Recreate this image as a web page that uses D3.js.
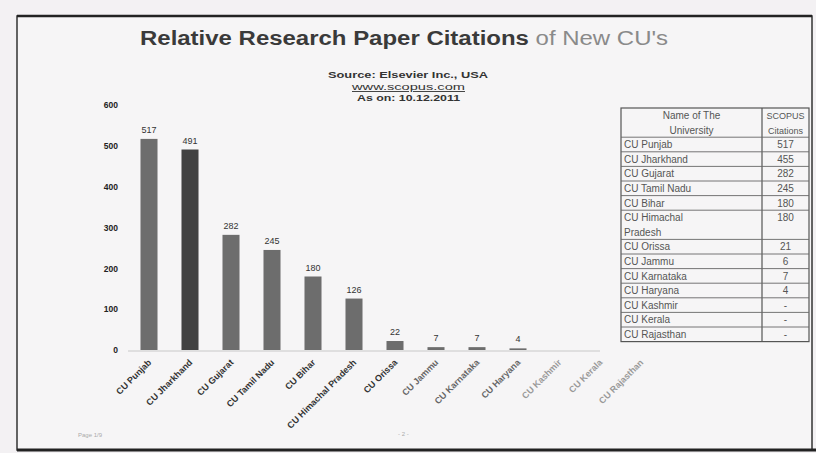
<!DOCTYPE html>
<html lang="en">
<head>
  <meta charset="UTF-8">
  <title>Relative Research Paper Citations of New CU's</title>
  <script src="https://d3js.org/d3.v7.min.js"></script>
  <style>
    body { margin: 0; background: #f3f1f3; }
    svg { display: block; font-family: "Liberation Sans", Arial, sans-serif; }
    .tick text { font-size: 8.5px; font-weight: bold; fill: #222; }
    .bar-label { font-size: 9px; fill: #333; }
    .x-label { font-size: 9px; font-weight: bold; }
    .tbl text { font-size: 10px; fill: #555; }
  </style>
</head>
<body>
<svg id="chart"></svg>

<script>
  // bar chart data
  var categories = ["CU Punjab", "CU Jharkhand", "CU Gujarat", "CU Tamil Nadu", "CU Bihar",
    "CU Himachal Pradesh", "CU Orissa", "CU Jammu", "CU Karnataka", "CU Haryana",
    "CU Kashmir", "CU Kerala", "CU Rajasthan"];
  var citations = [517, 491, 282, 245, 180, 126, 22, 7, 7, 4, 0, 0, 0];
  var yTicks = [0, 100, 200, 300, 400, 500, 600];

  // side table (as printed)
  var tableHeader = [["Name of The", "University"], ["SCOPUS", "Citations"]];
  var tableNames = [["CU Punjab"], ["CU Jharkhand"], ["CU Gujarat"], ["CU Tamil Nadu"], ["CU Bihar"],
    ["CU Himachal", "Pradesh"], ["CU Orissa"], ["CU Jammu"], ["CU Karnataka"], ["CU Haryana"],
    ["CU Kashmir"], ["CU Kerala"], ["CU Rajasthan"]];
  var tableValues = ["517", "455", "282", "245", "180", "180", "21", "6", "7", "4", "-", "-", "-"];

  var W = 816, H = 453;
  var svg = d3.select("#chart").attr("width", W).attr("height", H);

  // page frame
  svg.append("rect")
    .attr("x", 17).attr("y", 16).attr("width", 795).attr("height", 434)
    .attr("fill", "#f6f5f6").attr("stroke", "#333").attr("stroke-width", 1.5);
  svg.append("line").attr("x1", 17).attr("x2", 812).attr("y1", 16).attr("y2", 16)
    .attr("stroke", "#222").attr("stroke-width", 2.5);
  svg.append("line").attr("x1", 17).attr("x2", 816).attr("y1", 450).attr("y2", 450)
    .attr("stroke", "#222").attr("stroke-width", 3);

  // title
  var title = svg.append("text")
    .attr("x", 140).attr("y", 45)
    .attr("textLength", 528).attr("lengthAdjust", "spacingAndGlyphs")
    .attr("font-size", 20).attr("font-weight", "bold").attr("fill", "#3a3a3a");
  title.append("tspan").text("Relative Research Paper Citations ");
  title.append("tspan").attr("fill", "#8a8a8a").attr("font-weight", "normal").text("of New CU's");

  // source lines
  var sub = svg.append("g").attr("font-size", 9).attr("font-weight", "bold").attr("fill", "#333");
  sub.append("text").attr("x", 328).attr("y", 78)
    .attr("textLength", 160).attr("lengthAdjust", "spacingAndGlyphs").text("Source: Elsevier Inc., USA");
  sub.append("text").attr("x", 352).attr("y", 90).attr("font-weight", "normal")
    .attr("textLength", 113).attr("lengthAdjust", "spacingAndGlyphs")
    .attr("text-decoration", "underline").text("www.scopus.com");
  sub.append("text").attr("x", 357).attr("y", 101)
    .attr("textLength", 103).attr("lengthAdjust", "spacingAndGlyphs").text("As on: 10.12.2011");

  // scales
  var x = d3.scaleBand()
    .domain(categories)
    .range([128.5, 661.5])
    .paddingInner(0.585)
    .paddingOuter(0.2925);

  var y = d3.scaleLinear()
    .domain([0, 600])
    .range([350, 105]);

  // y axis
  var yAxis = svg.append("g")
    .attr("transform", "translate(128,0)")
    .call(d3.axisLeft(y).tickValues(yTicks).tickSize(0).tickPadding(10));
  yAxis.select(".domain").remove();

  // baseline
  svg.append("line")
    .attr("x1", 128).attr("x2", 600)
    .attr("y1", y(0) + 1).attr("y2", y(0) + 1)
    .attr("stroke", "#c8c8c8");

  // bars
  svg.selectAll(".bar")
    .data(citations)
    .enter().append("rect")
    .attr("class", "bar")
    .attr("x", function(d, i) { return x(categories[i]); })
    .attr("width", x.bandwidth())
    .attr("y", function(d) { return Math.min(y(d), y(0) - 1.5); })
    .attr("height", function(d) { return d > 0 ? Math.max(y(0) - y(d), 1.5) : 0; })
    .attr("fill", function(d, i) { return i === 1 ? "#424242" : "#6d6d6d"; });

  // value labels
  svg.selectAll(".bar-label")
    .data(citations.filter(function(d) { return d > 0; }))
    .enter().append("text")
    .attr("class", "bar-label")
    .attr("x", function(d, i) { return x(categories[i]) + x.bandwidth() / 2; })
    .attr("y", function(d) { return y(d) - 6; })
    .attr("text-anchor", "middle")
    .text(function(d) { return d; });

  // category labels, rotated
  svg.selectAll(".x-label")
    .data(categories)
    .enter().append("text")
    .attr("class", "x-label")
    .attr("text-anchor", "end")
    .attr("fill", function(d, i) { return i < 7 ? "#333" : (i < 10 ? "#666" : "#999"); })
    .attr("transform", function(d) {
      return "translate(" + (x(d) + x.bandwidth() / 2 + 3) + ",363) rotate(-45)";
    })
    .text(function(d) { return d; });

  // side table
  var tx0 = 621, tx1 = 762, tx2 = 809, ty0 = 108, lineH = 14.6;
  var tbl = svg.append("g").attr("class", "tbl");
  var rowTop = ty0 + 2 * lineH;
  var rows = tableNames.map(function(n, i) {
    var r = { names: n, value: tableValues[i], top: rowTop, h: n.length * lineH };
    rowTop += r.h;
    return r;
  });

  tbl.append("rect").attr("x", tx0).attr("y", ty0).attr("width", tx2 - tx0).attr("height", rowTop - ty0)
    .attr("fill", "none").attr("stroke", "#555").attr("stroke-width", 1.2);
  tbl.append("line").attr("x1", tx1).attr("x2", tx1).attr("y1", ty0).attr("y2", rowTop)
    .attr("stroke", "#555").attr("stroke-width", 1.2);

  tableHeader.forEach(function(h, c) {
    var cx = c === 0 ? (tx0 + tx1) / 2 : (tx1 + tx2) / 2;
    h.forEach(function(t, k) {
      tbl.append("text").attr("x", cx).attr("y", ty0 + lineH * k + 11)
        .attr("text-anchor", "middle")
        .style("font-size", c === 1 ? "9px" : null)
        .text(t);
    });
  });

  var rowG = tbl.selectAll(".row").data(rows).enter().append("g").attr("class", "row");
  rowG.append("line")
    .attr("x1", tx0).attr("x2", tx2)
    .attr("y1", function(d) { return d.top; }).attr("y2", function(d) { return d.top; })
    .attr("stroke", "#666").attr("stroke-width", 0.9);
  rowG.each(function(d) {
    var g = d3.select(this);
    d.names.forEach(function(t, k) {
      g.append("text").attr("x", tx0 + 3).attr("y", d.top + lineH * k + 11).text(t);
    });
    g.append("text").attr("x", (tx1 + tx2) / 2).attr("y", d.top + 11)
      .attr("text-anchor", "middle").text(d.value);
  });

  // faint footer marks from the scan
  svg.append("text").attr("x", 78).attr("y", 437).attr("font-size", 6).attr("fill", "#aaa").text("Page 1/9");
  svg.append("text").attr("x", 398).attr("y", 436).attr("font-size", 6).attr("fill", "#aaa").text("- 2 -");
</script>
</body>
</html>
